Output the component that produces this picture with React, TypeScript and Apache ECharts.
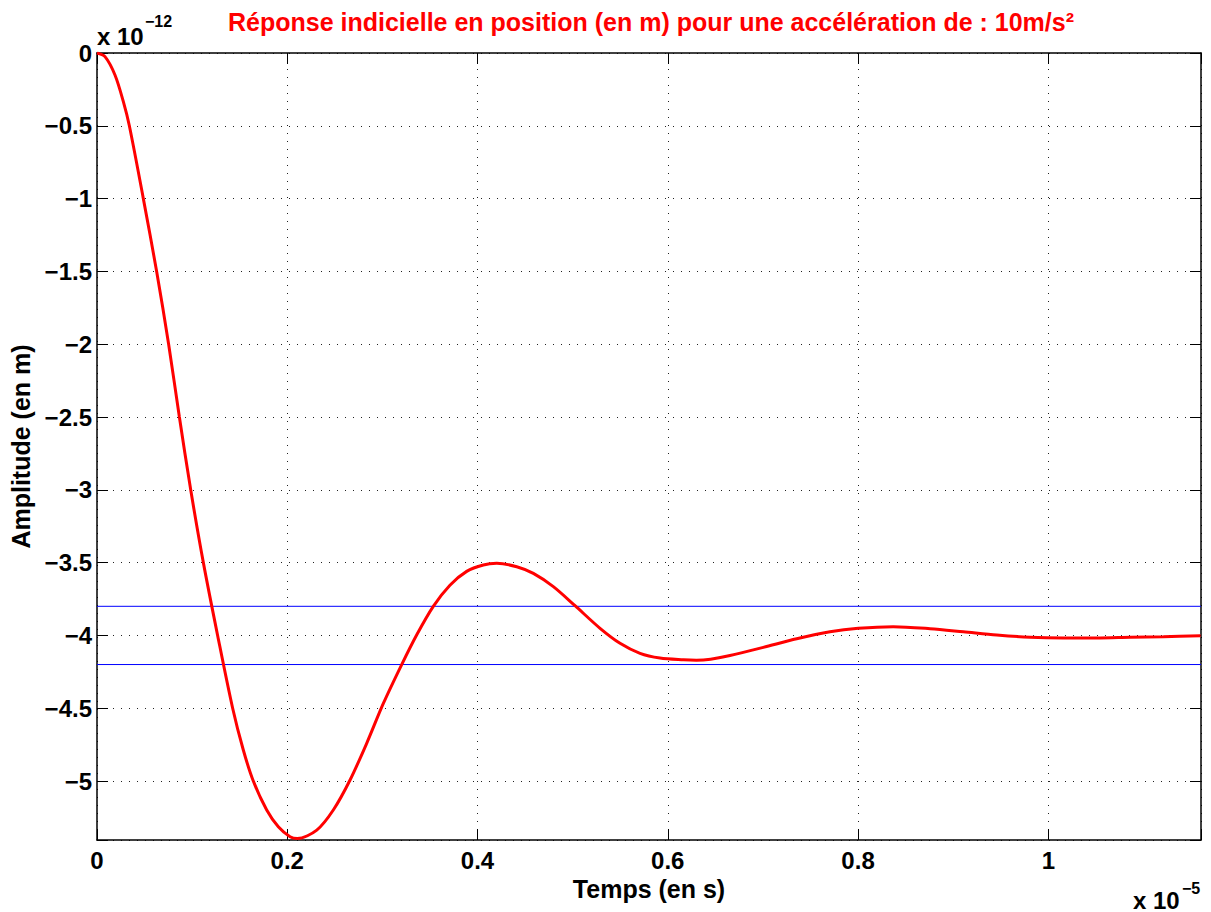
import React, { useEffect, useRef } from "react";
import * as echarts from "echarts";

// Time (x 1e-5 s)
const times = [
  0, 0.0084, 0.0189, 0.0277, 0.034, 0.0487, 0.0627, 0.0753, 0.0866, 0.0985,
  0.1118, 0.1268, 0.1426, 0.1538, 0.1643, 0.1784, 0.1906, 0.2029, 0.2106,
  0.231, 0.2484, 0.266, 0.2835, 0.301, 0.3203, 0.336, 0.3535, 0.371, 0.3886,
  0.4061, 0.4202, 0.4412, 0.4587, 0.4797, 0.5025, 0.5288, 0.5498, 0.5708, 0.5918,
  0.6163, 0.63, 0.645, 0.6654, 0.7004, 0.7355, 0.7705, 0.8003, 0.837, 0.8757,
  0.9107, 0.9458, 0.9808, 1.0158, 1.0508, 1.0859, 1.1209, 1.16,
];
// Amplitude (x 1e-12 m)
const amplitude = [
  0, -0.025, -0.151, -0.334, -0.5, -1.0, -1.5, -2.0, -2.5, -3.0,
  -3.5, -4.0, -4.5, -4.787, -5.0, -5.199, -5.314, -5.382, -5.395,
  -5.337, -5.199, -4.993, -4.741, -4.467, -4.2, -3.997, -3.8, -3.655, -3.56,
  -3.516, -3.505, -3.528, -3.574, -3.665, -3.796, -3.951, -4.054, -4.123, -4.155,
  -4.167, -4.17, -4.163, -4.138, -4.082, -4.023, -3.975, -3.951, -3.94, -3.954,
  -3.975, -3.997, -4.013, -4.018, -4.018, -4.013, -4.009, -4.002,
];
// Tolerance band (x 1e-12 m)
const bandUpper = -3.8;
const bandLower = -4.2;
// Axis ranges
const xRange = [0, 1.1605];
const yRange = [-5.405, 0];
const xStep = 0.2;
const yStep = 0.5;

const titleText = "Réponse indicielle en position (en m) pour une accélération de : 10m/s²";
const xName = "Temps (en s)";
const yName = "Amplitude (en m)";

const FONT = "'Liberation Sans', Arial, Helvetica, sans-serif";

function isMultiple(v: number, step: number) {
  const r = v / step;
  return Math.abs(r - Math.round(r)) < 1e-6;
}

export default function App() {
  const ref = useRef<HTMLDivElement>(null);
  useEffect(() => {
    if (!ref.current) return;
    const chart = echarts.init(ref.current, undefined, { renderer: "svg" });
    // y axis is drawn inverted with positive depth so ticks start from 0
    const toDepth = (v: number) => -v;
    const curve = times.map((t, i) => [t, toDepth(amplitude[i])]);
    const upper = [[xRange[0], toDepth(bandUpper)], [xRange[1], toDepth(bandUpper)]];
    const lower = [[xRange[0], toDepth(bandLower)], [xRange[1], toDepth(bandLower)]];

    const axisLine = { show: true, onZero: false, lineStyle: { color: "#000", width: 1.5 } };
    const tick = { show: true, inside: true, length: 11, lineStyle: { color: "#000", width: 1 } };
    const grid = { show: true, lineStyle: { color: "#222", width: 1, type: [1, 7] as any } };
    const label = { color: "#000", fontFamily: FONT, fontWeight: "bold" as const, fontSize: 24 };
    const nameStyle = { color: "#000", fontFamily: FONT, fontWeight: "bold" as const, fontSize: 25 };

    const xFmt = (v: number) => (isMultiple(v, xStep) ? (Math.abs(v) < 1e-9 ? "0" : String(Math.round(v * 10) / 10)) : "");
    const yFmt = (v: number) => (isMultiple(v, yStep) ? (Math.abs(v) < 1e-9 ? "0" : "\u2212" + String(Math.round(v * 10) / 10)) : "");

    const xBase = { type: "value" as const, min: xRange[0], max: xRange[1], interval: xStep };
    const yBase = { type: "value" as const, min: -yRange[1], max: -yRange[0], interval: yStep, inverse: true };

    chart.setOption({
      animation: false,
      backgroundColor: "#fff",
      title: {
        text: titleText,
        left: 646,
        top: 4,
        textAlign: "center",
        textStyle: { color: "#ff0000", fontFamily: FONT, fontWeight: "bold", fontSize: 25 },
      },
      grid: { left: 97, right: 10, top: 53, bottom: 72, containLabel: false },
      xAxis: [
        {
          ...xBase,
          position: "bottom",
          axisLine,
          axisTick: tick,
          splitLine: grid,
          axisLabel: { ...label, margin: 8, formatter: xFmt, showMaxLabel: true, showMinLabel: true },
          name: xName,
          nameLocation: "middle",
          nameGap: 31,
          nameTextStyle: nameStyle,
        },
        {
          ...xBase,
          position: "top",
          axisLine,
          axisTick: tick,
          splitLine: { show: false },
          axisLabel: { show: false },
        },
      ],
      yAxis: [
        {
          ...yBase,
          position: "left",
          axisLine,
          axisTick: tick,
          splitLine: grid,
          axisLabel: { ...label, margin: 5, formatter: yFmt, showMaxLabel: true, showMinLabel: true },
          name: yName,
          nameLocation: "middle",
          nameGap: 62,
          nameRotate: 90,
          nameTextStyle: nameStyle,
        },
        {
          ...yBase,
          position: "right",
          axisLine,
          axisTick: tick,
          splitLine: { show: false },
          axisLabel: { show: false },
        },
      ],
      graphic: [
        { type: "text", x: 97, y: 36, style: { text: "x 10", fill: "#000", font: `bold 24px ${FONT}`, verticalAlign: "middle", align: "left" } },
        { type: "text", x: 145, y: 21, style: { text: "\u221212", fill: "#000", font: `bold 16px ${FONT}`, verticalAlign: "middle", align: "left" } },
        { type: "text", x: 1133, y: 900, style: { text: "x 10", fill: "#000", font: `bold 24px ${FONT}`, verticalAlign: "middle", align: "left" } },
        { type: "text", x: 1182, y: 888, style: { text: "\u22125", fill: "#000", font: `bold 16px ${FONT}`, verticalAlign: "middle", align: "left" } },
      ],
      series: [
        {
          type: "line",
          data: upper,
          showSymbol: false,
          lineStyle: { color: "#0000ff", width: 1 },
          silent: true,
          z: 2,
        },
        {
          type: "line",
          data: lower,
          showSymbol: false,
          lineStyle: { color: "#0000ff", width: 1 },
          silent: true,
          z: 2,
        },
        {
          type: "line",
          data: curve,
          showSymbol: false,
          smooth: 0.3,
          lineStyle: { color: "#ff0000", width: 3 },
          silent: true,
          z: 3,
        },
      ],
    });
    return () => chart.dispose();
  }, []);
  return <div ref={ref} style={{ position: "absolute", left: 0, top: 0, width: 1211, height: 912 }} />;
}
